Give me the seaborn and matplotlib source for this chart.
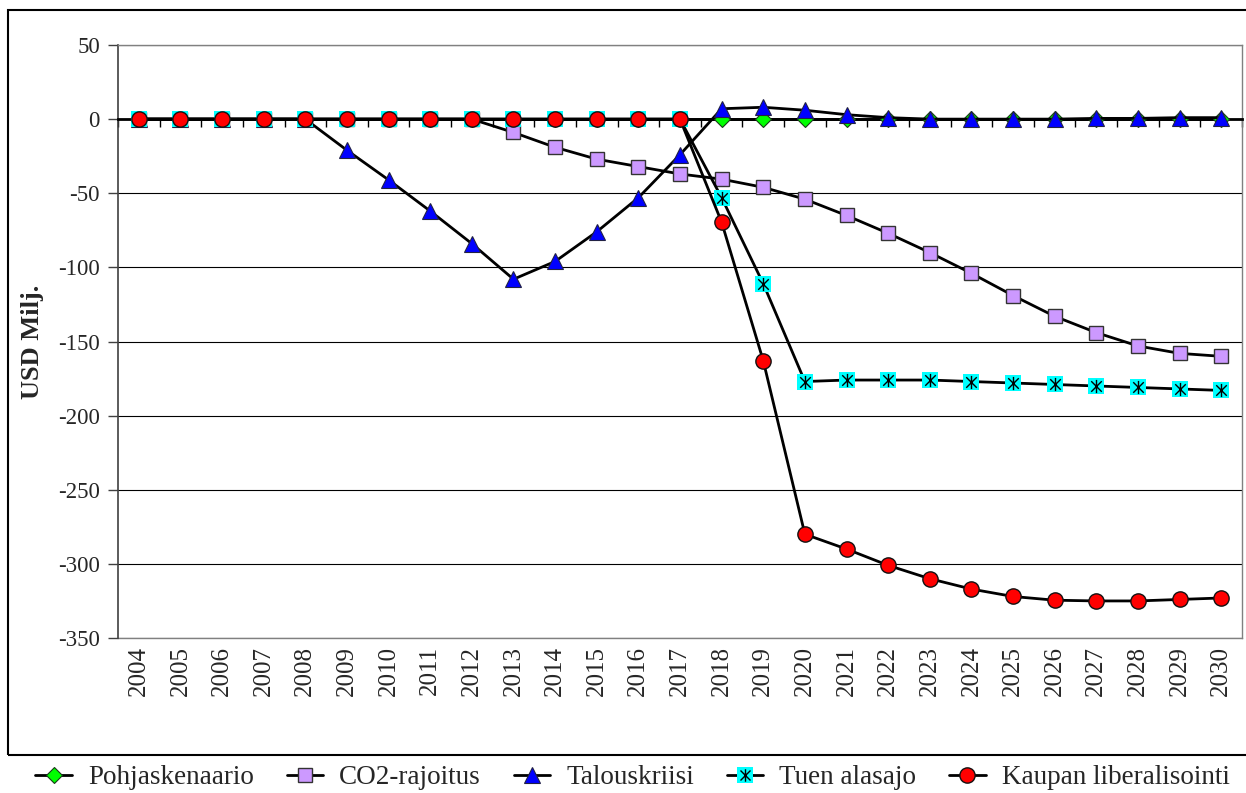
import numpy as np
import pandas as pd
import matplotlib
matplotlib.use("Agg")
import matplotlib.pyplot as plt
import seaborn as sns
from matplotlib.lines import Line2D
from matplotlib.legend_handler import HandlerTuple
from matplotlib.patches import Rectangle
from matplotlib.path import Path

years = list(range(2004, 2031))

pohjaskenaario = [0] * 27
co2_rajoitus = [0, 0, 0, 0, 0, 0, 0, 0, 0, -9, -19, -27, -32, -37, -40.5, -46, -54,
                -65, -77, -90, -104, -119, -133, -144, -153, -158, -160]
talouskriisi = [0, 0, 0, 0, 0, -21, -41, -62, -84, -108, -96, -76, -53, -24, 7, 8, 6,
                3, 1, 0, 0, 0, 0, 0.5, 0.5, 1, 1]
tuen_alasajo = [0, 0, 0, 0, 0, 0, 0, 0, 0, 0, 0, 0, 0, 0, -53, -111, -177,
                -176, -176, -176, -177, -178, -179, -180, -181, -182, -183]
kaupan_lib = [0, 0, 0, 0, 0, 0, 0, 0, 0, 0, 0, 0, 0, 0, -69.5, -163, -280,
              -290, -301, -310, -317, -322, -324.5, -325, -325, -324, -323]

series_names = ["Pohjaskenaario", "CO2-rajoitus", "Talouskriisi", "Tuen alasajo",
                "Kaupan liberalisointi"]
series_values = [pohjaskenaario, co2_rajoitus, talouskriisi, tuen_alasajo, kaupan_lib]

y_ticks = list(range(-350, 51, 50))

sns.set_style("white")
plt.rcParams["font.family"] = ["Liberation Serif", "DejaVu Serif"]
plt.rcParams["axes.unicode_minus"] = False

# asterisk marker: X plus a vertical bar
star_path = Path([(-1, -1), (1, 1), (-1, 1), (1, -1), (0, -1.25), (0, 1.25)],
                 [Path.MOVETO, Path.LINETO, Path.MOVETO, Path.LINETO, Path.MOVETO, Path.LINETO])

fig = plt.figure(figsize=(12.46, 7.93), dpi=100)
ax = fig.add_axes([118 / 1246, 1 - 638 / 793, (1242 - 118) / 1246, (638 - 45) / 793])

styles = {
    "Pohjaskenaario": dict(marker="D", markersize=8, markerfacecolor="#00FF00",
                           markeredgecolor="#1a3a1a", markeredgewidth=0.8),
    "CO2-rajoitus": dict(marker="s", markersize=10.5, markerfacecolor="#CC99FF",
                         markeredgecolor="#333333", markeredgewidth=1.0),
    "Talouskriisi": dict(marker="^", markersize=12, markerfacecolor="#0000FF",
                         markeredgecolor="#222244", markeredgewidth=0.8),
    "Tuen alasajo": dict(marker="s", markersize=11, markerfacecolor="#00FFFF",
                         markeredgecolor="#00FFFF", markeredgewidth=0.0),
    "Kaupan liberalisointi": dict(marker="o", markersize=11, markerfacecolor="#FF0000",
                                  markeredgecolor="#111111", markeredgewidth=1.0),
}

handles = []
for z, (name, vals) in enumerate(zip(series_names, series_values)):
    df = pd.DataFrame({"year": years, "value": vals})
    st = styles[name]
    sns.lineplot(data=df, x="year", y="value", ax=ax, color="black", linewidth=2.0,
                 zorder=5 + z, **st)
    h = Line2D([], [], color="black", linewidth=2.0, **st)
    if name == "Tuen alasajo":
        sns.scatterplot(data=df, x="year", y="value", ax=ax, marker=star_path, s=90,
                        color="black", edgecolor="black", linewidth=1.0, zorder=5 + z + 0.5)
        h2 = Line2D([], [], linestyle="none", marker=star_path, markersize=9,
                    color="black", markeredgecolor="black", markeredgewidth=1.0)
        h = (h, h2)
    handles.append(h)

ax.set_xlim(2003.5, 2030.5)
ax.set_ylim(-350, 50)
ax.set_yticks(y_ticks)
ax.yaxis.grid(True, color="black", linewidth=0.8)
ax.set_axisbelow(True)

# category axis crossing at zero, ticks between categories
ax.spines["bottom"].set_position(("data", 0))
ax.spines["bottom"].set_color("black")
ax.spines["bottom"].set_linewidth(2.0)
ax.set_xticks(np.arange(2003.5, 2031, 1.0))
ax.set_xticklabels([])
ax.tick_params(axis="x", direction="out", length=6, width=1.0, color="black", bottom=True)
ax.set_xlabel("")

for s in ["top", "right"]:
    ax.spines[s].set_color("#808080")
    ax.spines[s].set_linewidth(1.0)
ax.spines["left"].set_color("#404040")
ax.spines["left"].set_linewidth(1.2)

ax.tick_params(axis="y", direction="out", length=7, width=1.0, color="#404040",
               left=True, labelsize=16.5, pad=6)

sec = ax.secondary_xaxis("bottom")
sec.set_xticks(years)
sec.set_xticklabels([str(y) for y in years], rotation=90, fontsize=18)
sec.tick_params(axis="x", length=0, pad=6)
sec.spines["bottom"].set_color("#808080")
sec.spines["bottom"].set_linewidth(1.0)

ax.set_ylabel("USD Milj.", fontsize=19, fontweight="bold")
ax.yaxis.set_label_coords(-0.066, 0.5)

fig.patches.append(Rectangle((8 / 1246, 1 - 755 / 793), 1.2, (755 - 10) / 793,
                             transform=fig.transFigure, fill=False, edgecolor="black",
                             linewidth=1.5, clip_on=False))

fig.legend(handles, series_names, loc="center", bbox_to_anchor=(0.5076, 1 - 778 / 793),
           ncol=5, frameon=False, fontsize=19.5, handlelength=1.35, handletextpad=0.6,
           columnspacing=1.2, borderpad=0.2, borderaxespad=0.0,
           handler_map={tuple: HandlerTuple(ndivide=1, pad=0)})

fig.savefig("out.png", dpi=100)
